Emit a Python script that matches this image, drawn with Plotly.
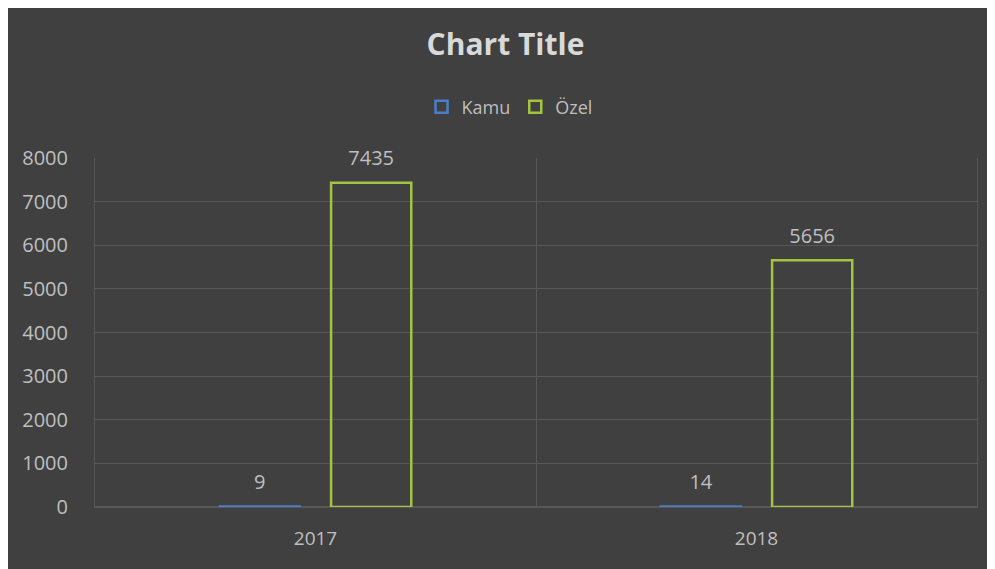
import plotly.graph_objects as go

years = ["2017", "2018"]
kamu = [9, 14]
ozel = [7435, 5656]
y_ticks = [0, 1000, 2000, 3000, 4000, 5000, 6000, 7000, 8000]

BG = "#404040"
GRID = "#575757"
TXT = "#bfbfbf"
FONT = "Open Sans"

series = [("Kamu", kamu, "#4a7fc8"), ("Özel", ozel, "#a4c440")]

fig = go.Figure()
for name, vals, col in series:
    fig.add_trace(go.Bar(
        name=name, x=years, y=vals, offsetgroup=name,
        marker=dict(color="rgba(0,0,0,0)", line=dict(color=col, width=2.5)),
    ))
for name, vals, col in series:
    fig.add_trace(go.Scatter(
        x=years, y=vals, offsetgroup=name, mode="markers+text",
        marker=dict(size=18, color="rgba(0,0,0,0)"),
        text=[str(v) for v in vals], textposition="top center",
        textfont=dict(color=TXT, size=20, family=FONT),
        showlegend=False, hoverinfo="skip", cliponaxis=False,
    ))

fig.update_layout(
    width=995, height=569,
    paper_bgcolor=BG, plot_bgcolor=BG,
    margin=dict(l=87, r=26, t=150, b=70),
    barmode="group", bargap=0.495, bargroupgap=0.28,
    scattermode="group", scattergap=0.495,
    title=dict(text="<b>Chart Title</b>", x=0.5, xanchor="center", y=0.935, yanchor="middle",
               font=dict(size=30, color="#d9d9d9", family=FONT)),
    legend=dict(orientation="h", x=0.47, xanchor="center", y=1.146, yanchor="middle",
                font=dict(size=18, color=TXT, family=FONT),
                itemwidth=30, traceorder="normal"),
    xaxis=dict(type="category", showgrid=True, gridcolor=GRID, gridwidth=1,
               tickson="boundaries", ticks="", showline=True, linecolor=GRID,
               ticklabelstandoff=14,
               tickfont=dict(size=19, color=TXT, family=FONT)),
    yaxis=dict(range=[0, 8000], tickvals=y_ticks, showgrid=True, gridcolor=GRID,
               gridwidth=1, zeroline=True, zerolinecolor=GRID, ticks="",
               showline=True, linecolor=GRID, mirror=True,
               ticklabelstandoff=22,
               tickfont=dict(size=20, color=TXT, family=FONT)),
)

fig.write_html("out.html")
